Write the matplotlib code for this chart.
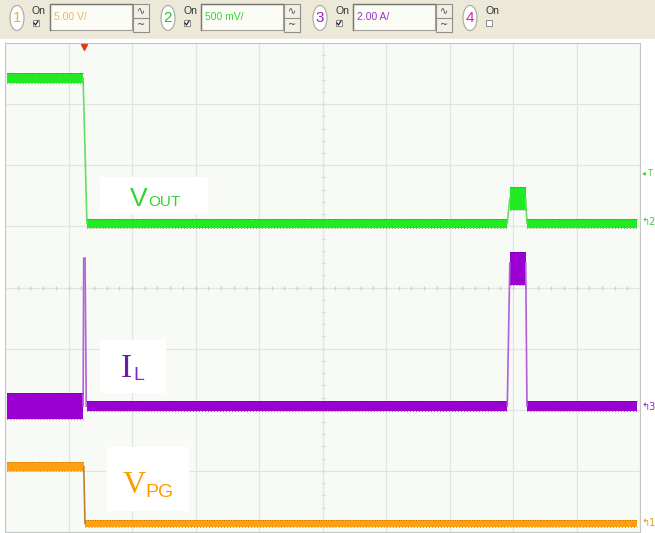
import numpy as np
import matplotlib.pyplot as plt
from matplotlib.patches import Rectangle, Ellipse

W, H = 655, 533

# screen is 10 x 8 divisions, every value below is read off the screen in divisions
# a trace = flat noisy bands (start, end, band low, band high) + edges joining them

# CH2  VOUT  500 mV/div
vout_start = [0.03, 1.29, 7.95, 8.22]
vout_end = [1.23, 7.91, 8.20, 9.95]
vout_low = [7.35, 4.97, 5.27, 4.97]
vout_high = [7.51, 5.12, 5.65, 5.12]
vout_edges = [(1.23, 7.43, 1.29, 5.05), (7.91, 5.05, 7.95, 5.46), (8.20, 5.46, 8.22, 5.05)]

# CH3  IL  2.00 A/div
il_start = [0.03, 1.29, 7.95, 8.22]
il_end = [1.23, 7.91, 8.20, 9.95]
il_low = [1.85, 1.98, 4.04, 1.98]
il_high = [2.27, 2.14, 4.58, 2.14]
il_edges = [(1.23, 2.06, 1.24, 4.48), (1.26, 4.48, 1.28, 2.06),
            (7.91, 2.06, 7.95, 4.40), (8.20, 4.40, 8.22, 2.06)]

# CH1  VPG  5.00 V/div
pg_start = [0.03, 1.26]
pg_end = [1.24, 9.95]
pg_low = [1.00, 0.08]
pg_high = [1.15, 0.20]
pg_edges = [(1.24, 1.07, 1.26, 0.14)]

trigger_x = 1.25

# top bar
ch_names = ['1', '2', '3', '4']
ch_colors = ['#e6b43a', '#22c322', '#9a22c8', '#dd1fae']
ch_text_colors = ['#e9b76a', '#3bcf3b', '#9a33cc', None]
ch_scales = ['5.00 V/', '500 mV/', '2.00 A/', None]
ch_on = [True, True, True, False]
ch_x = [17, 168, 320, 470]


def draw_trace(ax, start, end, low, high, edges, color, dark, edge_color):
    for t0, t1, lo, hi in zip(start, end, low, high):
        ax.fill_between([t0, t1], lo, hi, color=color, lw=0, zorder=3)
        ax.plot([t0, t1], [hi, hi], color=dark, lw=0.7, alpha=0.8,
                ls=(0, (0.8, 1.7)), zorder=4)
        ax.plot([t0, t1], [lo, lo], color=dark, lw=0.7, alpha=0.8,
                ls=(0, (0.8, 2.3)), zorder=4)
    for x0, y0, x1, y1 in edges:
        ax.plot([x0, x1], [y0, y1], color=edge_color, lw=1.2, zorder=3)


fig = plt.figure(figsize=(W / 100, H / 100), dpi=100)
fig.patch.set_facecolor('white')

ax = fig.add_axes([5 / W, 1 - 532 / H, 635 / W, 489 / H], zorder=1)
ax.set_xlim(0, 10)
ax.set_ylim(0, 8)
ax.set_facecolor('#f8faf6')
ax.set_xticks(np.arange(11))
ax.set_yticks(np.arange(9))
ax.tick_params(length=0, labelbottom=False, labelleft=False)
ax.grid(color='#dfe5df', lw=0.9)
for s in ax.spines.values():
    s.set_color('#c4c8c4')
    s.set_linewidth(0.8)

# centre graticule ticks
ticks = np.arange(0.2, 10, 0.2)
ax.plot(ticks, np.full_like(ticks, 4), ls='none', marker='|', ms=3.5, color='#cdd3cd', zorder=2)
vt = np.arange(0.2, 8, 0.2)
ax.plot(np.full_like(vt, 5), vt, ls='none', marker='_', ms=3, color='#dbe0db', zorder=2)

draw_trace(ax, vout_start, vout_end, vout_low, vout_high, vout_edges,
           '#22ea22', '#0e7a0e', '#66dd66')
draw_trace(ax, il_start, il_end, il_low, il_high, il_edges,
           '#9a00d2', '#44006a', '#b060dd')
draw_trace(ax, pg_start, pg_end, pg_low, pg_high, pg_edges,
           '#ffa012', '#9a5c00', '#c08030')
ax.plot(trigger_x, 7.93, marker='v', color='#e23a20', ms=5, zorder=5, clip_on=False)

# overlay in pixel coordinates
ov = fig.add_axes([0, 0, 1, 1], zorder=3)
ov.set_xlim(0, W)
ov.set_ylim(H, 0)
ov.axis('off')
ov.patch.set_alpha(0)

ov.add_patch(Rectangle((0, 0), W, 38, color='#ece9d8'))
ov.plot([0, W], [38.5, 38.5], color='white', lw=1)

for name, col, tcol, scale, on, cx in zip(ch_names, ch_colors, ch_text_colors,
                                         ch_scales, ch_on, ch_x):
    ov.add_patch(Ellipse((cx, 18), 14, 25, facecolor='white', edgecolor='#a8a8a0', lw=0.8))
    ov.text(cx, 18.5, name, color=col, fontsize=11, ha='center', va='center',
            family='Liberation Sans')
    ov.text(cx + 15, 11, 'On', color='#333333', fontsize=7.5, va='center',
            family='Liberation Sans')
    ov.add_patch(Rectangle((cx + 16, 20), 6, 6, facecolor='white', edgecolor='#8a8a8a', lw=0.7))
    if on:
        ov.plot([cx + 17, cx + 18.5, cx + 21], [23, 25, 21], color='#222222', lw=0.9)
    if scale is None:
        continue
    ov.add_patch(Rectangle((cx + 33, 4), 82, 26, facecolor='#fcfcf6', edgecolor='#a09f98', lw=0.8))
    ov.plot([cx + 33, cx + 33, cx + 115], [30, 4, 4], color='#77776f', lw=1.0)
    ov.text(cx + 37, 17, scale, color=tcol, fontsize=7.5, va='center',
            family='Liberation Sans')
    ov.add_patch(Rectangle((cx + 116, 4), 16, 28, facecolor='#f2f0e6', edgecolor='#8f8f88', lw=0.8))
    ov.plot([cx + 116, cx + 132], [18, 18], color='#8f8f88', lw=0.8)
    ov.text(cx + 124, 11, '∿', color='#444444', fontsize=7, ha='center', va='center')
    ov.text(cx + 124, 25, '~', color='#444444', fontsize=7, ha='center', va='center')

# trace labels
ov.add_patch(Rectangle((100, 177), 107, 36, color='white', zorder=6))
ov.text(130, 206, 'V', color='#2fd42f', fontsize=19, family='Liberation Sans', zorder=7)
ov.text(148, 206, 'OUT', color='#2fd42f', fontsize=11, family='Liberation Sans', zorder=7)

ov.add_patch(Rectangle((100, 340), 65, 52, color='white', zorder=6))
ov.text(121, 377, 'I', color='#6a1aa8', fontsize=24, family='Liberation Serif', zorder=7)
ov.text(133, 380, 'L', color='#7a2cc4', fontsize=14, family='Liberation Sans', zorder=7)

ov.add_patch(Rectangle((107, 447), 81, 63, color='white', zorder=6))
ov.text(123, 493, 'V', color='#ff9a00', fontsize=23, family='Liberation Serif', zorder=7)
ov.text(145, 497, 'PG', color='#ff9a00', fontsize=14, family='Liberation Sans', zorder=7)

# channel markers at the right edge
ov.text(642, 173, '◂ T', color='#2fd42f', fontsize=5.5, va='center')
ov.text(641, 222, '↰2', color='#2fd42f', fontsize=7, va='center')
ov.text(641, 407, '↰3', color='#9a22c8', fontsize=7, va='center')
ov.text(641, 523, '↰1', color='#e69a10', fontsize=7, va='center')

fig.savefig('out.png', dpi=100)
